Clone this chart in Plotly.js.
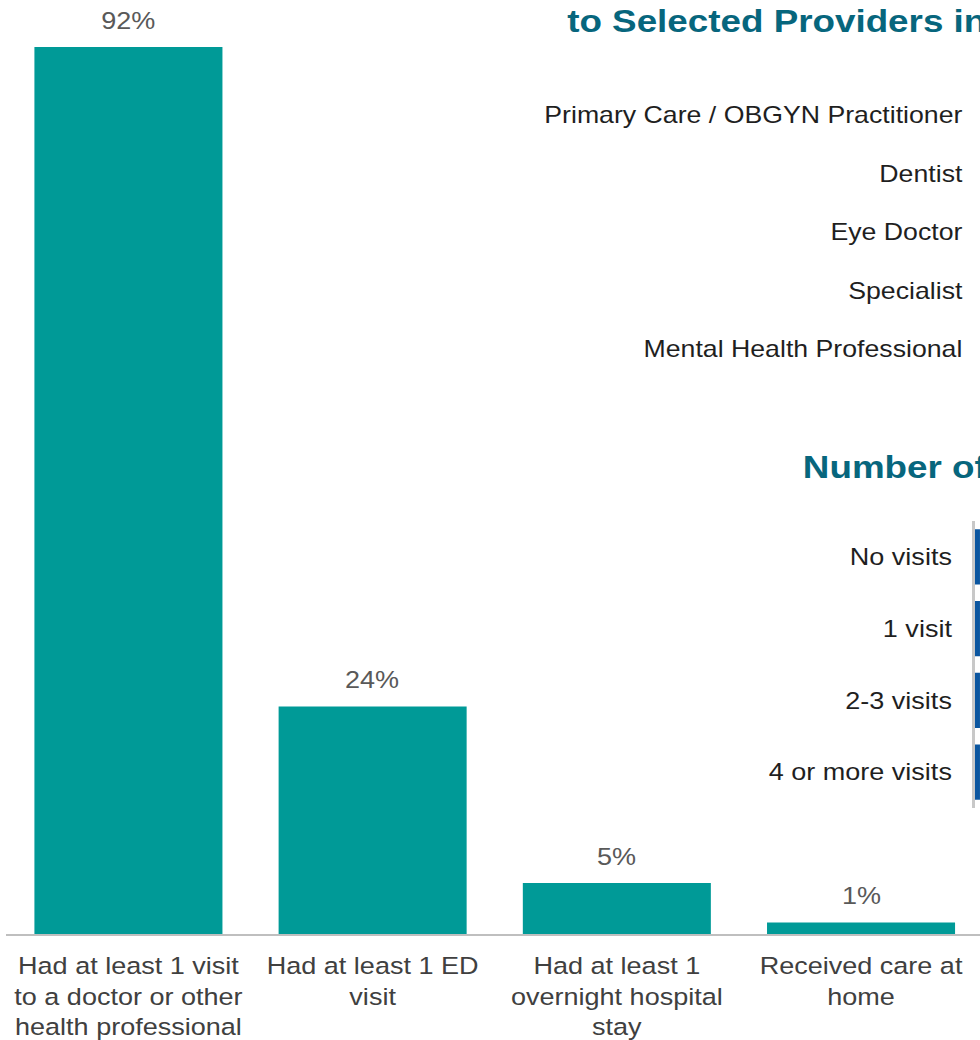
<!DOCTYPE html>
<html>
<head>
<meta charset="utf-8">
<script src="https://cdn.plot.ly/plotly-3.0.1.min.js"></script>
<style>
  html, body { margin: 0; padding: 0; background: #ffffff; overflow: hidden; }
  #wrap { width: 980px; height: 1040px; overflow: hidden; }
  /* the reference picture is horizontally stretched (~1.15x); reproduce it */
  #chart { width: 852px; height: 1040px; transform: scaleX(1.1502); transform-origin: 0 0; }
</style>
</head>
<body>
<div id="wrap"><div id="chart"></div></div>
<script>
// ---- data ----
const utilCategories = [
  "Had at least 1 visit<br>to a doctor or other<br>health professional",
  "Had at least 1 ED<br>visit",
  "Had at least 1<br>overnight hospital<br>stay",
  "Received care at<br>home"
];
// bar heights (labels show them rounded)
const utilPercent = [92, 23.6, 5.3, 1.2];
const utilLabels = ["92%", "24%", "5%", "1%"];

const providerNames = [
  "Primary Care / OBGYN Practitioner",
  "Dentist",
  "Eye Doctor",
  "Specialist",
  "Mental Health Professional"
];
// bars of this panel lie outside the visible crop
const providerPercent = [null, null, null, null, null];

const visitCategories = ["No visits", "1 visit", "2-3 visits", "4 or more visits"];
// only the first pixels of these bars are visible (estimates)
const visitPercent = [12, 20, 33, 35];

const titleProviders = "to Selected Providers in";
const titleVisits = "Number of";

// ---- styling ----
const W = 852, H = 1040;
const FONT = "Liberation Sans, Arial, sans-serif";
const TEAL = "#009A97";
const BLUE = "#0B56A0";
const TITLE_COLOR = "#07667D";

const traces = [
  {
    type: "bar",
    x: utilCategories,
    y: utilPercent,
    xaxis: "x", yaxis: "y",
    marker: { color: TEAL },
    hoverinfo: "skip"
  },
  {
    type: "bar",
    orientation: "h",
    y: providerNames,
    x: providerPercent,
    xaxis: "x3", yaxis: "y3",
    marker: { color: BLUE },
    hoverinfo: "skip"
  },
  {
    type: "bar",
    orientation: "h",
    y: visitCategories,
    x: visitPercent,
    xaxis: "x2", yaxis: "y2",
    marker: { color: BLUE },
    hoverinfo: "skip"
  }
];

const valueLabels = utilCategories.map((c, i) => ({
  text: utilLabels[i],
  xref: "x", yref: "y",
  x: c, y: utilPercent[i],
  xanchor: "center", yanchor: "middle",
  yshift: 26,
  showarrow: false,
  font: { family: FONT, size: 23.5, color: "#595959" }
}));

const layout = {
  width: W, height: H,
  margin: { l: 0, r: 0, t: 0, b: 0 },
  paper_bgcolor: "#ffffff",
  plot_bgcolor: "rgba(0,0,0,0)",
  showlegend: false,
  bargap: 0.23,
  font: { family: FONT },
  xaxis: {
    domain: [5.5 / W, 1],
    range: [-0.5, 3.487],
    type: "category",
    showline: true, linecolor: "#BFBFBF", linewidth: 2,
    ticks: "", showgrid: false, zeroline: false,
    ticklabelstandoff: 10,
    tickfont: { family: FONT, size: 23.5, color: "#404040" },
    fixedrange: true
  },
  yaxis: {
    domain: [(H - 934) / H, 1],
    range: [0, 96.87],
    showticklabels: false, showgrid: false, zeroline: false, showline: false,
    fixedrange: true
  },
  xaxis2: {
    domain: [847.3 / W, 1],
    range: [0, 1],
    anchor: "y2",
    showticklabels: false, showgrid: false, zeroline: false, showline: false,
    fixedrange: true
  },
  yaxis2: {
    domain: [(H - 808) / H, (H - 521) / H],
    anchor: "x2",
    type: "category",
    range: [3.5, -0.5],
    showline: true, linecolor: "#C8C8C8", linewidth: 2,
    ticks: "", showgrid: false, zeroline: false,
    ticklabelstandoff: 13,
    tickfont: { family: FONT, size: 23.5, color: "#1F1F1F" },
    fixedrange: true
  },
  xaxis3: {
    domain: [0.9985, 1],
    range: [0, 1],
    anchor: "y3",
    showticklabels: false, showgrid: false, zeroline: false, showline: false,
    fixedrange: true
  },
  yaxis3: {
    domain: [(H - 378.25) / H, (H - 85.75) / H],
    anchor: "x3",
    type: "category",
    categoryorder: "array",
    categoryarray: providerNames,
    tickmode: "array",
    tickvals: providerNames,
    range: [4.5, -0.5],
    showline: false,
    ticks: "", showgrid: false, zeroline: false,
    ticklabelstandoff: 13,
    tickfont: { family: FONT, size: 23.2, color: "#1F1F1F" },
    fixedrange: true
  },
  annotations: valueLabels.concat([
    {
      text: "<b>" + titleProviders + "</b>",
      xref: "paper", yref: "paper",
      x: 490.5 / W, xanchor: "left",
      y: 1 - 21 / H, yanchor: "middle",
      showarrow: false,
      font: { family: FONT, size: 32, color: TITLE_COLOR }
    },
    {
      text: "<b>" + titleVisits + "</b>",
      xref: "paper", yref: "paper",
      x: 695.5 / W, xanchor: "left",
      y: 1 - 466.5 / H, yanchor: "middle",
      showarrow: false,
      font: { family: FONT, size: 32, color: TITLE_COLOR }
    }
  ])
};

Plotly.newPlot("chart", traces, layout, { displayModeBar: false, staticPlot: true });
</script>
</body>
</html>
